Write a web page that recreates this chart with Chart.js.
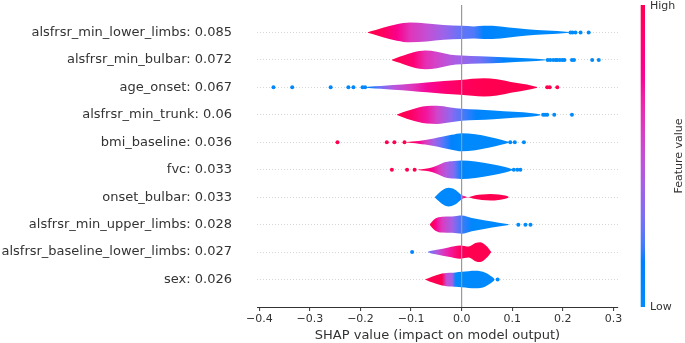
<!DOCTYPE html>
<html>
<head>
<meta charset="utf-8">
<script src="https://cdn.jsdelivr.net/npm/chart.js"></script>
<style>
  html, body { margin: 0; padding: 0; background: #fff; }
  #wrap { width: 685px; height: 343px; }
</style>
</head>
<body>
<div id="wrap"><canvas id="shapChart"></canvas></div>
<script>
/* DATA */
const features = ["alsfrsr_min_lower_limbs", "alsfrsr_min_bulbar", "age_onset", "alsfrsr_min_trunk",
  "bmi_baseline", "fvc", "onset_bulbar", "alsfrsr_min_upper_limbs", "alsfrsr_baseline_lower_limbs", "sex"];
const meanAbsShap = [0.085, 0.072, 0.067, 0.06, 0.036, 0.033, 0.033, 0.028, 0.027, 0.026];
const xTicks = [-0.4, -0.3, -0.2, -0.1, 0.0, 0.1, 0.2, 0.3];

// violin outline: shap value, half width (in rows), feature value (0 low .. 1 high)
const violinX = [
  [-0.186, -0.17, -0.154, -0.128, -0.102, -0.069, -0.036, 0, 0.024, 0.044, 0.077, 0.11, 0.149, 0.189, 0.212],
  [-0.138, -0.128, -0.115, -0.095, -0.072, -0.049, -0.022, 0, 0.037, 0.083, 0.129, 0.166],
  [-0.19, -0.184, -0.16, -0.135, -0.1, -0.069, -0.035, -0.003, 0.044, 0.07, 0.103, 0.129, 0.149],
  [-0.128, -0.115, -0.102, -0.069, -0.049, -0.022, 0, 0.03, 0.063, 0.103, 0.14, 0.156],
  [-0.108, -0.098, -0.085, -0.072, -0.055, -0.039, -0.02, 0, 0.027, 0.053, 0.08, 0.093],
  [-0.086, -0.072, -0.059, -0.045, -0.032, -0.015, 0, 0.027, 0.06, 0.086, 0.1],
  [-0.053, -0.045, -0.036, -0.026, -0.013, -0.003, 0.002, 0.006, 0.012, 0.017, 0.027, 0.04, 0.057, 0.073, 0.086, 0.093],
  [-0.063, -0.058, -0.052, -0.039, -0.019, 0, 0.02, 0.047, 0.073, 0.093],
  [-0.067, -0.06, -0.049, -0.026, -0.003, 0.014, 0.027, 0.037, 0.05, 0.058],
  [-0.072, -0.066, -0.059, -0.039, -0.03, -0.019, -0.012, 0, 0.027, 0.047, 0.06, 0.065]
];
const violinHalf = [
  [0.01, 0.09, 0.18, 0.30, 0.36, 0.33, 0.27, 0.24, 0.22, 0.24, 0.22, 0.15, 0.085, 0.05, 0.015],
  [0.01, 0.08, 0.16, 0.28, 0.34, 0.30, 0.19, 0.16, 0.13, 0.10, 0.06, 0.015],
  [0.005, 0.02, 0.05, 0.085, 0.13, 0.18, 0.23, 0.27, 0.33, 0.30, 0.18, 0.10, 0.015],
  [0.01, 0.1, 0.18, 0.32, 0.33, 0.27, 0.22, 0.19, 0.16, 0.11, 0.06, 0.015],
  [0.01, 0.03, 0.05, 0.085, 0.14, 0.2, 0.27, 0.33, 0.29, 0.2, 0.085, 0.015],
  [0.01, 0.04, 0.085, 0.18, 0.28, 0.32, 0.34, 0.30, 0.2, 0.1, 0.015],
  [0.01, 0.15, 0.28, 0.34, 0.27, 0.12, 0.06, 0.03, 0, 0.02, 0.07, 0.1, 0.12, 0.1, 0.06, 0.015],
  [0.01, 0.12, 0.22, 0.29, 0.30, 0.33, 0.24, 0.15, 0.07, 0.015],
  [0.01, 0.05, 0.085, 0.17, 0.24, 0.2, 0.33, 0.36, 0.2, 0.015],
  [0.01, 0.05, 0.1, 0.22, 0.24, 0.25, 0.26, 0.28, 0.32, 0.25, 0.1, 0.015]
];
const violinColor = [
  [1, 1, 0.95, 0.8, 0.62, 0.5, 0.38, 0.25, 0.22, 0.12, 0.05, 0.03, 0.02, 0.02, 0.02],
  [1, 1, 0.95, 0.88, 0.65, 0.55, 0.45, 0.38, 0.28, 0.12, 0.02, 0.02],
  [0.1, 0.15, 0.28, 0.45, 0.6, 0.75, 0.88, 0.95, 1, 1, 1, 1, 1],
  [1, 1, 0.95, 0.72, 0.55, 0.35, 0.22, 0.1, 0.03, 0.02, 0.02, 0.02],
  [1, 0.95, 0.8, 0.6, 0.4, 0.25, 0.1, 0.03, 0.02, 0.02, 0.02, 0.02],
  [1, 0.95, 0.8, 0.6, 0.45, 0.3, 0.08, 0.03, 0.02, 0.02, 0.02],
  [0.02, 0.02, 0.02, 0.02, 0.02, 0.1, 0.6, 0.9, 1, 1, 1, 1, 1, 1, 1, 1],
  [1, 1, 0.8, 0.6, 0.4, 0.2, 0.05, 0.02, 0.02, 0.02],
  [0.25, 0.3, 0.45, 0.7, 0.95, 1, 1, 1, 1, 1],
  [1, 1, 1, 1, 0.5, 0.4, 0.03, 0.02, 0.02, 0.02, 0.02, 0.02]
];

// single points outside the violins
const dotX = [
  [0.215, 0.219, 0.225, 0.235, 0.251],
  [0.170, 0.175, 0.181, 0.186, 0.189, 0.194, 0.199, 0.203, 0.218, 0.222, 0.258, 0.271],
  [-0.372, -0.335, -0.259, -0.224, -0.214, -0.196, -0.191, 0.169, 0.174, 0.189],
  [0.161, 0.165, 0.169, 0.183, 0.218],
  [-0.2455, -0.148, -0.133, -0.113, 0.096, 0.105, 0.123],
  [-0.138, -0.108, -0.093, 0.103, 0.11, 0.116],
  [],
  [0.112, 0.126, 0.136],
  [-0.098],
  [0.071]
];
const dotColor = [
  [0, 0, 0, 0, 0],
  [0, 0, 0, 0, 0, 0, 0, 0, 0, 0, 0, 0],
  [0.05, 0.05, 0.05, 0.05, 0.05, 0.05, 0.05, 1, 1, 1],
  [0, 0, 0, 0, 0],
  [1, 1, 1, 1, 0, 0, 0],
  [1, 1, 1, 0, 0, 0],
  [],
  [0, 0, 0],
  [0.05],
  [0]
];

/* COLOR MAP (shap red_blue, lch interpolation) */
function redBlue(t) {
  t = Math.max(0, Math.min(1, t));
  const L = 54, C = 70 + 20 * t;
  const h = 4.6588 + t * (0.35470565 + 2 * Math.PI - 4.6588);
  const a = C * Math.cos(h), b = C * Math.sin(h);
  const fy = (L + 16) / 116, fx = fy + a / 500, fz = fy - b / 200;
  const f = v => (v ** 3 > 0.008856 ? v ** 3 : (116 * v - 16) / 903.3);
  const X = 0.95047 * f(fx), Y = f(fy), Z = 1.08883 * f(fz);
  const lin = [
    3.2406 * X - 1.5372 * Y - 0.4986 * Z,
    -0.9689 * X + 1.8758 * Y + 0.0415 * Z,
    0.0557 * X - 0.2040 * Y + 1.0570 * Z
  ];
  const rgb = lin.map(c => {
    c = Math.max(0, Math.min(1, c));
    c = c <= 0.0031308 ? 12.92 * c : 1.055 * Math.pow(c, 1 / 2.4) - 0.055;
    return Math.round(c * 255);
  });
  return `rgb(${rgb.join(",")})`;
}

function violinFill(i) {
  return ctx => {
    const chart = ctx.chart;
    const xs = chart.scales.x;
    if (!chart.chartArea || !xs) return redBlue(violinColor[i][0]);
    const g = chart.ctx.createLinearGradient(xs.left, 0, xs.right, 0);
    violinX[i].forEach((x, k) => {
      let p = (xs.getPixelForValue(x) - xs.left) / (xs.right - xs.left);
      p = Math.max(0, Math.min(1, p));
      g.addColorStop(p, redBlue(violinColor[i][k]));
    });
    return g;
  };
}

/* DATASETS */
const datasets = [];
features.forEach((name, i) => {
  datasets.push({
    data: violinX[i].map((x, k) => ({ x, y: i - violinHalf[i][k] })),
    borderWidth: 0, borderColor: "rgba(0,0,0,0)", pointRadius: 0,
    cubicInterpolationMode: "monotone", fill: false
  });
  datasets.push({
    data: violinX[i].map((x, k) => ({ x, y: i + violinHalf[i][k] })),
    borderWidth: 0, borderColor: "rgba(0,0,0,0)", pointRadius: 0,
    cubicInterpolationMode: "monotone", fill: "-1",
    backgroundColor: violinFill(i)
  });
});
features.forEach((name, i) => {
  datasets.push({
    data: dotX[i].map(x => ({ x, y: i })),
    showLine: false, pointRadius: 2, pointBorderWidth: 0,
    borderColor: "rgba(0,0,0,0)",
    pointBackgroundColor: dotColor[i].map(redBlue), fill: false
  });
});

/* COLORBAR */
const colorBar = {
  id: "colorBar",
  afterDraw(chart) {
    const { ctx, chartArea } = chart;
    const x = chartArea.right + 22.7, w = 4.3;
    const top = chartArea.top, bottom = chartArea.bottom;
    const g = ctx.createLinearGradient(0, bottom, 0, top);
    for (let k = 0; k <= 20; k++) g.addColorStop(k / 20, redBlue(k / 20));
    ctx.save();
    ctx.fillStyle = g;
    ctx.fillRect(x, top, w, bottom - top);
    ctx.fillStyle = "#333333";
    ctx.font = "11px 'DejaVu Sans'";
    ctx.textAlign = "left";
    ctx.textBaseline = "middle";
    ctx.fillText("High", x + w + 5, top + 1);
    ctx.fillText("Low", x + w + 5, bottom);
    ctx.translate(679, (top + bottom) / 2);
    ctx.rotate(-Math.PI / 2);
    ctx.textAlign = "center";
    ctx.fillText("Feature value", 0, 0);
    ctx.restore();
  }
};

Chart.defaults.font.family = "'DejaVu Sans', sans-serif";
Chart.defaults.color = "#333333";

new Chart(document.getElementById("shapChart"), {
  type: "line",
  data: { datasets },
  plugins: [colorBar],
  options: {
    responsive: true,
    maintainAspectRatio: false,
    animation: false,
    layout: { padding: { top: 5, right: 67, bottom: 0, left: 0 } },
    plugins: { legend: { display: false }, tooltip: { enabled: false } },
    scales: {
      x: {
        type: "linear",
        min: -0.4046,
        max: 0.309,
        afterFit: s => { s.height = 36; s.paddingLeft = 0; s.paddingRight = 0; },
        afterBuildTicks: s => { s.ticks = xTicks.map(v => ({ value: v })); },
        ticks: {
          font: { size: 11 },
          color: "#333333",
          padding: 2,
          maxRotation: 0,
          callback: v => (Math.abs(v) < 1e-9 ? "0.0" : (v < 0 ? "\u2212" + (-v).toFixed(1) : v.toFixed(1)))
        },
        grid: {
          z: 1,
          color: c => (c.tick && Math.abs(c.tick.value) < 1e-9 ? "#999999" : "rgba(0,0,0,0)"),
          lineWidth: 1.2,
          drawTicks: true,
          tickLength: 4,
          tickColor: "#333333",
          tickWidth: 1
        },
        border: { display: true, color: "#333333", width: 1, z: 2 },
        title: {
          display: true,
          text: "SHAP value (impact on model output)",
          font: { size: 13, lineHeight: 1.1 },
          color: "#333333",
          padding: { top: 0, bottom: 0 }
        }
      },
      y: {
        type: "linear",
        min: -1,
        max: 10,
        reverse: true,
        afterFit: s => { s.width = 257; s.paddingTop = 0; s.paddingBottom = 0; },
        afterBuildTicks: s => { s.ticks = features.map((f, i) => ({ value: i })); },
        ticks: {
          font: { size: 13 },
          color: "#333333",
          padding: 25,
          autoSkip: false,
          callback: v => (Number.isInteger(v) && v >= 0 && v < features.length ? `${features[v]}: ${meanAbsShap[v]}` : "")
        },
        grid: { color: "#d6d6d6", lineWidth: 1, drawTicks: false },
        border: { display: false, dash: [1, 2] }
      }
    }
  }
});
</script>
</body>
</html>
